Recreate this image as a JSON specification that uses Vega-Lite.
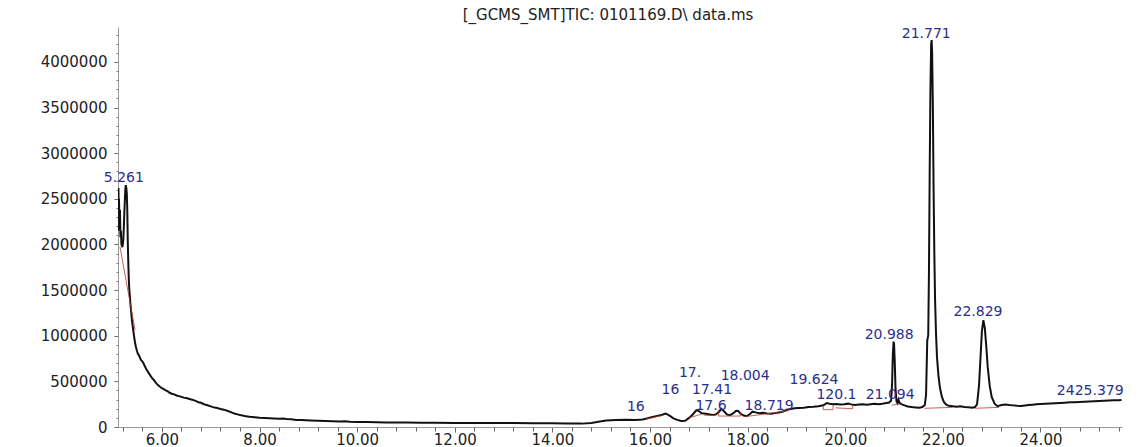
{
  "$schema": "https://vega.github.io/schema/vega-lite/v6.json",
  "width": 1004,
  "height": 400,
  "autosize": {"type": "none"},
  "padding": {"left": 118, "top": 27, "right": 19, "bottom": 20},
  "background": "white",
  "title": {"text": "[_GCMS_SMT]TIC: 0101169.D\\ data.ms", "font": "DejaVu Sans", "fontSize": 15, "fontWeight": "normal", "color": "#222", "offset": 4, "dx": -12},
  "config": {"view": {"stroke": null}, "axis": {"grid": false}},
  "resolve": {"axis": {"x": "independent", "y": "independent"}},
  "datasets": {
    "tic": [
      {"t":5.10,"v":2450000},{"t":5.105,"v":2150000},{"t":5.11,"v":2620000},{"t":5.115,"v":2300000},{"t":5.12,"v":2500000},
      {"t":5.13,"v":2250000},{"t":5.14,"v":2380000},{"t":5.15,"v":2080000},{"t":5.16,"v":2150000},{"t":5.17,"v":2000000},
      {"t":5.18,"v":1990000},{"t":5.19,"v":1970000},{"t":5.20,"v":2010000},{"t":5.21,"v":2060000},{"t":5.22,"v":2200000},
      {"t":5.23,"v":2350000},{"t":5.24,"v":2480000},{"t":5.25,"v":2600000},{"t":5.26,"v":2650000},{"t":5.27,"v":2620000},
      {"t":5.28,"v":2560000},{"t":5.29,"v":2380000},{"t":5.30,"v":2050000},{"t":5.31,"v":1820000},{"t":5.32,"v":1640000},
      {"t":5.33,"v":1520000},{"t":5.34,"v":1450000},{"t":5.35,"v":1380000},{"t":5.36,"v":1320000},{"t":5.37,"v":1260000},
      {"t":5.38,"v":1200000},{"t":5.39,"v":1150000},{"t":5.40,"v":1110000},{"t":5.41,"v":1070000},{"t":5.42,"v":1030000},
      {"t":5.43,"v":990000},{"t":5.45,"v":920000},{"t":5.47,"v":870000},{"t":5.49,"v":830000},{"t":5.51,"v":800000},
      {"t":5.53,"v":785000},{"t":5.55,"v":760000},{"t":5.57,"v":735000},{"t":5.59,"v":725000},{"t":5.61,"v":710000},
      {"t":5.63,"v":690000},{"t":5.65,"v":665000},{"t":5.67,"v":645000},{"t":5.69,"v":625000},{"t":5.71,"v":610000},
      {"t":5.73,"v":590000},{"t":5.75,"v":575000},{"t":5.78,"v":550000},{"t":5.81,"v":530000},{"t":5.84,"v":510000},
      {"t":5.87,"v":490000},{"t":5.90,"v":470000},{"t":5.93,"v":455000},{"t":5.96,"v":440000},{"t":6.00,"v":425000},
      {"t":6.04,"v":415000},{"t":6.08,"v":400000},{"t":6.12,"v":390000},{"t":6.16,"v":375000},{"t":6.20,"v":365000},
      {"t":6.25,"v":358000},{"t":6.30,"v":345000},{"t":6.35,"v":338000},{"t":6.40,"v":330000},{"t":6.45,"v":322000},
      {"t":6.50,"v":318000},{"t":6.55,"v":310000},{"t":6.60,"v":302000},{"t":6.65,"v":295000},{"t":6.70,"v":283000},
      {"t":6.75,"v":272000},{"t":6.80,"v":265000},{"t":6.85,"v":252000},{"t":6.90,"v":243000},{"t":6.95,"v":235000},
      {"t":7.00,"v":226000},{"t":7.05,"v":218000},{"t":7.10,"v":212000},{"t":7.15,"v":205000},{"t":7.20,"v":198000},
      {"t":7.25,"v":192000},{"t":7.30,"v":185000},{"t":7.35,"v":175000},{"t":7.40,"v":166000},{"t":7.45,"v":155000},
      {"t":7.50,"v":146000},{"t":7.55,"v":138000},{"t":7.60,"v":131000},{"t":7.65,"v":125000},{"t":7.70,"v":120000},
      {"t":7.75,"v":116000},{"t":7.80,"v":112000},{"t":7.85,"v":110000},{"t":7.90,"v":107000},{"t":7.95,"v":104000},
      {"t":8.00,"v":101000},{"t":8.10,"v":99000},{"t":8.20,"v":96000},{"t":8.30,"v":93000},{"t":8.40,"v":91000},
      {"t":8.48,"v":94000},{"t":8.55,"v":88000},{"t":8.65,"v":84000},{"t":8.75,"v":78000},{"t":8.85,"v":76000},
      {"t":8.95,"v":73000},{"t":9.05,"v":71000},{"t":9.2,"v":68000},{"t":9.35,"v":65000},{"t":9.5,"v":63000},
      {"t":9.65,"v":60000},{"t":9.75,"v":62000},{"t":9.85,"v":58000},{"t":10.0,"v":56000},{"t":10.2,"v":54000},
      {"t":10.4,"v":52000},{"t":10.6,"v":50000},{"t":10.8,"v":49000},{"t":11.0,"v":48000},{"t":11.3,"v":47000},
      {"t":11.6,"v":46000},{"t":12.0,"v":45000},{"t":12.4,"v":44000},{"t":12.8,"v":44000},{"t":13.2,"v":43000},
      {"t":13.6,"v":42000},{"t":14.0,"v":40000},{"t":14.3,"v":38000},{"t":14.6,"v":37000},{"t":14.8,"v":45000},
      {"t":15.0,"v":62000},{"t":15.1,"v":72000},{"t":15.3,"v":77000},{"t":15.5,"v":80000},{"t":15.7,"v":78000},
      {"t":15.85,"v":82000},{"t":15.95,"v":95000},{"t":16.05,"v":110000},{"t":16.15,"v":122000},{"t":16.25,"v":135000},
      {"t":16.32,"v":148000},{"t":16.40,"v":125000},{"t":16.48,"v":95000},{"t":16.56,"v":78000},{"t":16.64,"v":66000},
      {"t":16.72,"v":68000},{"t":16.80,"v":100000},{"t":16.88,"v":140000},{"t":16.95,"v":185000},{"t":17.00,"v":175000},
      {"t":17.06,"v":150000},{"t":17.12,"v":148000},{"t":17.20,"v":140000},{"t":17.28,"v":132000},{"t":17.35,"v":138000},
      {"t":17.42,"v":170000},{"t":17.46,"v":200000},{"t":17.52,"v":170000},{"t":17.58,"v":135000},{"t":17.64,"v":130000},
      {"t":17.70,"v":148000},{"t":17.76,"v":175000},{"t":17.80,"v":178000},{"t":17.86,"v":145000},{"t":17.92,"v":125000},
      {"t":17.98,"v":118000},{"t":18.04,"v":140000},{"t":18.10,"v":168000},{"t":18.16,"v":160000},{"t":18.24,"v":150000},
      {"t":18.32,"v":155000},{"t":18.40,"v":148000},{"t":18.48,"v":145000},{"t":18.56,"v":152000},{"t":18.64,"v":158000},
      {"t":18.72,"v":170000},{"t":18.80,"v":188000},{"t":18.88,"v":198000},{"t":18.96,"v":205000},{"t":19.05,"v":208000},
      {"t":19.15,"v":212000},{"t":19.25,"v":218000},{"t":19.35,"v":222000},{"t":19.45,"v":228000},{"t":19.55,"v":238000},
      {"t":19.62,"v":262000},{"t":19.68,"v":255000},{"t":19.75,"v":250000},{"t":19.82,"v":252000},{"t":19.90,"v":246000},
      {"t":19.98,"v":250000},{"t":20.06,"v":256000},{"t":20.12,"v":248000},{"t":20.20,"v":240000},{"t":20.28,"v":246000},
      {"t":20.36,"v":250000},{"t":20.44,"v":244000},{"t":20.52,"v":250000},{"t":20.60,"v":256000},{"t":20.68,"v":250000},
      {"t":20.76,"v":255000},{"t":20.84,"v":262000},{"t":20.90,"v":268000},{"t":20.94,"v":290000},{"t":20.96,"v":480000},
      {"t":20.975,"v":800000},{"t":20.99,"v":935000},{"t":21.00,"v":910000},{"t":21.015,"v":700000},{"t":21.03,"v":420000},
      {"t":21.05,"v":280000},{"t":21.07,"v":262000},{"t":21.09,"v":300000},{"t":21.11,"v":268000},{"t":21.15,"v":250000},
      {"t":21.20,"v":240000},{"t":21.28,"v":225000},{"t":21.36,"v":218000},{"t":21.44,"v":215000},{"t":21.52,"v":212000},
      {"t":21.58,"v":218000},{"t":21.63,"v":240000},{"t":21.655,"v":350000},{"t":21.67,"v":700000},{"t":21.68,"v":950000},
      {"t":21.70,"v":1000000},{"t":21.715,"v":1700000},{"t":21.73,"v":2800000},{"t":21.745,"v":3700000},{"t":21.76,"v":4200000},
      {"t":21.77,"v":4240000},{"t":21.78,"v":4100000},{"t":21.795,"v":3500000},{"t":21.81,"v":2600000},{"t":21.825,"v":1900000},
      {"t":21.84,"v":1400000},{"t":21.86,"v":1020000},{"t":21.88,"v":760000},{"t":21.91,"v":560000},{"t":21.94,"v":430000},
      {"t":21.98,"v":330000},{"t":22.02,"v":275000},{"t":22.07,"v":245000},{"t":22.12,"v":232000},{"t":22.20,"v":228000},
      {"t":22.28,"v":222000},{"t":22.36,"v":226000},{"t":22.44,"v":220000},{"t":22.52,"v":216000},{"t":22.60,"v":212000},
      {"t":22.66,"v":218000},{"t":22.70,"v":250000},{"t":22.74,"v":450000},{"t":22.77,"v":750000},{"t":22.80,"v":1050000},
      {"t":22.83,"v":1170000},{"t":22.86,"v":1080000},{"t":22.89,"v":880000},{"t":22.92,"v":650000},{"t":22.96,"v":450000},
      {"t":23.00,"v":330000},{"t":23.06,"v":255000},{"t":23.12,"v":228000},{"t":23.20,"v":240000},{"t":23.28,"v":246000},
      {"t":23.36,"v":241000},{"t":23.44,"v":237000},{"t":23.52,"v":233000},{"t":23.60,"v":230000},{"t":23.68,"v":236000},
      {"t":23.76,"v":240000},{"t":23.84,"v":244000},{"t":23.92,"v":248000},{"t":24.00,"v":252000},{"t":24.10,"v":255000},
      {"t":24.20,"v":258000},{"t":24.30,"v":261000},{"t":24.40,"v":264000},{"t":24.50,"v":267000},{"t":24.60,"v":270000},
      {"t":24.70,"v":272000},{"t":24.80,"v":275000},{"t":24.90,"v":278000},{"t":25.00,"v":280000},{"t":25.10,"v":283000},
      {"t":25.20,"v":285000},{"t":25.30,"v":288000},{"t":25.40,"v":290000},{"t":25.50,"v":292000},{"t":25.60,"v":293000},
      {"t":25.66,"v":295000}
    ],
    "base": [
      {"seg":"a","t":5.14,"v":1976000},{"seg":"a","t":5.45,"v":1063000},
      {"seg":"b","t":15.9,"v":85000},{"seg":"b","t":16.25,"v":125000},
      {"seg":"c","t":16.8,"v":100000},{"seg":"c","t":17.05,"v":140000},
      {"seg":"d","t":17.1,"v":130000},{"seg":"d","t":17.35,"v":125000},
      {"seg":"e","t":17.4,"v":190000},{"seg":"e","t":17.4,"v":120000},{"seg":"e","t":17.85,"v":120000},{"seg":"e","t":17.85,"v":170000},
      {"seg":"f","t":17.95,"v":115000},{"seg":"f","t":18.2,"v":130000},
      {"seg":"g","t":18.2,"v":130000},{"seg":"g","t":18.85,"v":180000},
      {"seg":"h","t":19.55,"v":235000},{"seg":"h","t":19.55,"v":190000},{"seg":"h","t":19.75,"v":190000},{"seg":"h","t":19.75,"v":240000},
      {"seg":"i","t":19.8,"v":210000},{"seg":"i","t":20.15,"v":200000},{"seg":"i","t":20.15,"v":240000},
      {"seg":"j","t":20.95,"v":240000},{"seg":"j","t":21.12,"v":250000},
      {"seg":"k","t":21.62,"v":205000},{"seg":"k","t":22.2,"v":215000},
      {"seg":"l","t":22.66,"v":205000},{"seg":"l","t":23.15,"v":215000}
    ],
    "labels": [
      {"t":5.22,"v":2730000,"label":"5.261"},
      {"t":15.71,"v":219000,"label":"16"},
      {"t":16.42,"v":410000,"label":"16"},
      {"t":17.27,"v":410000,"label":"17.41"},
      {"t":16.82,"v":590000,"label":"17."},
      {"t":17.95,"v":560000,"label":"18.004"},
      {"t":19.36,"v":520000,"label":"19.624"},
      {"t":17.25,"v":235000,"label":"17.6"},
      {"t":18.44,"v":235000,"label":"18.719"},
      {"t":19.82,"v":350000,"label":"120.1"},
      {"t":20.92,"v":350000,"label":"21.094"},
      {"t":20.90,"v":1010000,"label":"20.988"},
      {"t":21.66,"v":4310000,"label":"21.771"},
      {"t":22.72,"v":1260000,"label":"22.829"},
      {"t":25.02,"v":395000,"label":"2425.379"}
    ]
  },
  "layer": [
    {
      "data": {"name": "tic"},
      "mark": {"type": "line", "color": "#111111", "strokeWidth": 2, "clip": true},
      "encoding": {
        "x": {"field": "t", "type": "quantitative",
          "scale": {"domain": [5.1, 25.67], "nice": false, "zero": false},
          "axis": {"title": null, "orient": "bottom", "domainColor": "#999999", "tickColor": "#666666",
            "values": [6,8,10,12,14,16,18,20,22,24], "format": ".2f", "tickSize": 5,
            "labelOverlap": false, "labelFlush": false, "labelPadding": 0,
            "labelFont": "DejaVu Sans", "labelFontSize": 15, "labelColor": "#222222"}},
        "y": {"field": "v", "type": "quantitative",
          "scale": {"domain": [0, 4383000], "nice": false},
          "axis": {"title": null, "orient": "left", "domainColor": "#999999", "tickColor": "#666666",
            "values": [0,500000,1000000,1500000,2000000,2500000,3000000,3500000,4000000], "format": "d", "tickSize": 4,
            "labelOverlap": false, "labelFlush": false, "labelPadding": 7,
            "labelFont": "DejaVu Sans", "labelFontSize": 15, "labelColor": "#222222"}}
      }
    },
    {
      "data": {"name": "base"},
      "mark": {"type": "line", "color": "#c0392b", "strokeWidth": 1, "opacity": 0.8},
      "encoding": {
        "x": {"field": "t", "type": "quantitative",
          "axis": {"title": null, "orient": "bottom", "domain": false, "labels": false, "tickColor": "#666666", "tickSize": 4,
            "values": [5.2,5.6,6.4,6.8,7.2,7.6,8.4,8.8,9.2,9.6,10.4,10.8,11.2,11.6,12.4,12.8,13.2,13.6,14.4,14.8,15.2,15.6,16.4,16.8,17.2,17.6,18.4,18.8,19.2,19.6,20.4,20.8,21.2,21.6,22.4,22.8,23.2,23.6,24.4,24.8,25.2,25.6]}},
        "y": {"field": "v", "type": "quantitative",
          "axis": {"title": null, "orient": "left", "domain": false, "labels": false, "tickColor": "#777777", "tickSize": 2,
            "values": [100000,200000,300000,400000,600000,700000,800000,900000,1100000,1200000,1300000,1400000,1600000,1700000,1800000,1900000,2100000,2200000,2300000,2400000,2600000,2700000,2800000,2900000,3100000,3200000,3300000,3400000,3600000,3700000,3800000,3900000,4100000,4200000,4300000]}},
        "detail": {"field": "seg"}
      }
    },
    {
      "data": {"name": "labels"},
      "mark": {"type": "text", "font": "DejaVu Sans", "fontSize": 14, "color": "#2b2f8a", "align": "center", "baseline": "middle"},
      "encoding": {
        "x": {"field": "t", "type": "quantitative", "axis": null},
        "y": {"field": "v", "type": "quantitative", "axis": null},
        "text": {"field": "label"}
      }
    }
  ]
}
